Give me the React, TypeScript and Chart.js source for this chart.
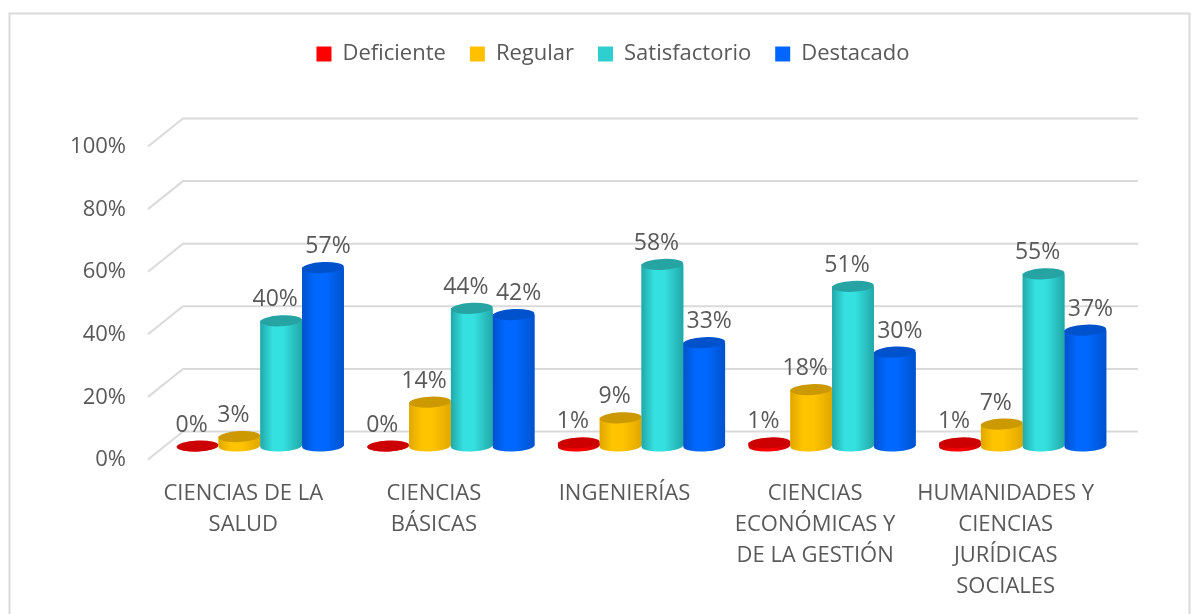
import React, { useEffect, useRef } from "react";
import { Chart, registerables } from "chart.js";

Chart.register(...registerables);

const categories = [
  ["CIENCIAS DE LA", "SALUD"],
  ["CIENCIAS", "BÁSICAS"],
  ["INGENIERÍAS"],
  ["CIENCIAS", "ECONÓMICAS Y", "DE LA GESTIÓN"],
  ["HUMANIDADES Y", "CIENCIAS", "JURÍDICAS", "SOCIALES"],
];
const deficiente = [0, 0, 1, 1, 1];
const regular = [3, 14, 9, 18, 7];
const satisfactorio = [40, 44, 58, 51, 55];
const destacado = [57, 42, 33, 30, 37];
const yTicks = [0, 20, 40, 60, 80, 100];

const FONT = "'Open Sans', sans-serif";
const TEXT = "#595959";
const GRID = "#dadada";

const shades = [
  { base: "#ff0000", edge: "#c80000", bright: "#ff0000", top: "#cc0000", labelDx: -6 },
  { base: "#ffc000", edge: "#e0a800", bright: "#ffc400", top: "#cc9a00", labelDx: -6 },
  { base: "#2fcfcf", edge: "#22a8a8", bright: "#35e0e0", top: "#26a3a3", labelDx: -6 },
  { base: "#0066ff", edge: "#0052cc", bright: "#0068ff", top: "#0052cc", labelDx: 5 },
];

const DEPTH_BACK = 14.5;
const DEPTH_FRONT = 13.5;
const TILT = -0.05;

const cylinderPlugin = {
  id: "cylinders",
  afterLayout(chart: any) {
    const lg = chart.legend;
    if (lg) {
      lg.left += 54;
      lg.right += 54;
      lg.top = 19;
    }
  },
  beforeDatasetsDraw(chart: any) {
    const { ctx, chartArea, scales } = chart;
    ctx.save();
    ctx.strokeStyle = GRID;
    ctx.lineWidth = 2;
    // page frame of the picture
    ctx.beginPath();
    ctx.moveTo(9.5, 614);
    ctx.lineTo(9.5, 13.5);
    ctx.lineTo(1189.5, 13.5);
    ctx.lineTo(1189.5, 614);
    ctx.stroke();
    for (const v of yTicks) {
      const y = scales.y.getPixelForValue(v);
      ctx.beginPath();
      ctx.moveTo(chartArea.left - 17, y + DEPTH_FRONT);
      ctx.lineTo(chartArea.left + 18, y - DEPTH_BACK);
      ctx.lineTo(chartArea.right + 20, y - DEPTH_BACK);
      ctx.stroke();
    }
    ctx.restore();
  },
  afterDatasetsDraw(chart: any) {
    const { ctx } = chart;
    chart.data.datasets.forEach((ds: any, di: number) => {
      const s = shades[di];
      chart.getDatasetMeta(di).data.forEach((bar: any, i: number) => {
        const rx = bar.width / 2;
        const ry = 5.5;
        const { x, y, base } = bar;
        const g = ctx.createLinearGradient(x - rx, 0, x + rx, 0);
        g.addColorStop(0, s.edge);
        g.addColorStop(0.3, s.bright);
        g.addColorStop(0.55, s.bright);
        g.addColorStop(1, s.edge);
        ctx.save();
        // body + bottom curve
        ctx.fillStyle = g;
        ctx.beginPath();
        ctx.ellipse(x, base, rx, ry, TILT, 0, Math.PI);
        ctx.lineTo(x - rx, y);
        ctx.lineTo(x + rx, y);
        ctx.closePath();
        ctx.fill();
        // top cap
        ctx.fillStyle = s.top;
        ctx.beginPath();
        ctx.ellipse(x, y, rx, ry, TILT, 0, Math.PI * 2);
        ctx.fill();
        ctx.restore();
      });
    });
    // value labels above everything
    ctx.save();
    ctx.font = `23px ${FONT}`;
    ctx.fillStyle = TEXT;
    ctx.textAlign = "center";
    ctx.textBaseline = "middle";
    chart.data.datasets.forEach((ds: any, di: number) => {
      chart.getDatasetMeta(di).data.forEach((bar: any, i: number) => {
        ctx.fillText(`${ds.data[i]}%`, bar.x + shades[di].labelDx, bar.y - 21);
      });
    });
    ctx.restore();
  },
};

export default function App() {
  const ref = useRef<HTMLCanvasElement>(null);
  useEffect(() => {
    const chart = new Chart(ref.current!, {
      type: "bar",
      data: {
        labels: categories as any,
        datasets: [
          { label: "Deficiente", data: deficiente, backgroundColor: shades[0].base },
          { label: "Regular", data: regular, backgroundColor: shades[1].base },
          { label: "Satisfactorio", data: satisfactorio, backgroundColor: shades[2].base },
          { label: "Destacado", data: destacado, backgroundColor: shades[3].base },
        ],
      },
      options: {
        animation: false,
        responsive: false,
        events: [],
        layout: { autoPadding: false, padding: { left: 0, right: 82, top: 77, bottom: 0 } },
        datasets: { bar: { categoryPercentage: 0.877, barPercentage: 1 } },
        plugins: {
          tooltip: { enabled: false },
          title: { display: false },
          legend: {
            position: "top",
            labels: {
              boxWidth: 15,
              boxHeight: 15,
              padding: 24,
              color: TEXT,
              font: { family: FONT, size: 22 },
            },
          },
        },
        scales: {
          x: {
            grid: { display: false, drawTicks: false },
            border: { display: false },
            afterFit: (s: any) => { s.height = 168; },
            ticks: {
              color: TEXT,
              font: { family: FONT, size: 22, lineHeight: 1.4 },
              padding: 32.5,
              labelOffset: -17,
              maxRotation: 0,
              minRotation: 0,
              autoSkip: false,
            },
          },
          y: {
            min: 0,
            max: 100,
            grid: { display: false, drawTicks: false },
            border: { display: false },
            afterFit: (s: any) => { s.width = 165; },
            afterBuildTicks: (s: any) => { s.ticks = yTicks.map((value) => ({ value })); },
            ticks: {
              color: TEXT,
              font: { family: FONT, size: 22 },
              padding: 39,
              labelOffset: 14,
              callback: (v: any) => `${v}%`,
            },
          },
        },
      },
      plugins: [cylinderPlugin],
    } as any);
    return () => chart.destroy();
  }, []);
  return (
    <canvas
      ref={ref}
      width={1200}
      height={614}
      style={{ position: "absolute", left: 0, top: 0, width: 1200, height: 614, filter: "blur(0.4px)" }}
    />
  );
}
